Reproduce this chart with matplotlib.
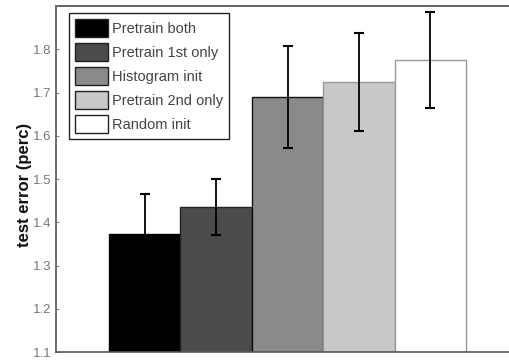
import matplotlib
matplotlib.use("Agg")
import matplotlib.pyplot as plt
import numpy as np

labels = ["Pretrain both", "Pretrain 1st only", "Histogram init", "Pretrain 2nd only", "Random init"]
values = [1.372, 1.435, 1.690, 1.725, 1.775]
errors = [0.093, 0.065, 0.118, 0.113, 0.110]
colors = ["#000000", "#4b4b4b", "#8a8a8a", "#c8c8c8", "#ffffff"]
edges = ["#000000", "#222222", "#111111", "#999999", "#999999"]
yticks = [1.1, 1.2, 1.3, 1.4, 1.5, 1.6, 1.7, 1.8]

plt.rcParams['font.family'] = ['Liberation Sans', 'DejaVu Sans']

W, H = 509, 360
fig = plt.figure(figsize=(W / 100, H / 100), dpi=100)
left, right, bottom, top = 56, 519, 352, 6
ax = fig.add_axes([left / W, 1 - bottom / H, (right - left) / W, (bottom - top) / H])

x = np.arange(len(values))
ax.bar(x, values, width=1.0, color=colors, edgecolor=edges, linewidth=1.0, zorder=2)
ax.errorbar(x, values, yerr=errors, fmt='none', ecolor='#000000', elinewidth=1.3,
            capsize=3.8, capthick=1.5, zorder=3)

ax.set_ylim(1.1, 1.90)
bw = (466 - 109) / 5.0
ax.set_xlim(-0.5 - (109 - left) / bw, 4.5 + (right - 466) / bw)
ax.set_xticks([])
ax.set_yticks(yticks)
ax.set_yticklabels([f"{t:.1f}" for t in yticks])
ax.tick_params(axis='y', direction='in', length=2, width=0.8, colors='#888888',
               labelcolor='#777777', labelsize=9.5, pad=3)

for s in ['left', 'bottom']:
    ax.spines[s].set_color('#555555')
    ax.spines[s].set_linewidth(1.2)
ax.spines['top'].set_color('#666666')
ax.spines['top'].set_linewidth(1.4)
ax.spines['right'].set_visible(False)

ax.set_ylabel("test error (perc)", fontsize=12, fontweight='bold', color='#111111')
ax.yaxis.set_label_coords(32 / W, 1 - 185 / H, transform=fig.transFigure)

handles = [plt.Rectangle((0, 0), 1, 1, facecolor=c, edgecolor='#222222', linewidth=1.0) for c in colors]
fs = 10.5
fpx = fs * 100 / 72
leg = ax.legend(handles, labels, loc='upper left',
                bbox_to_anchor=(69 / W, 1 - 13 / H), bbox_transform=fig.transFigure,
                borderaxespad=0, fontsize=fs, handlelength=33 / fpx, handleheight=1.52,
                labelspacing=0.42, handletextpad=4 / fpx, borderpad=0.4,
                fancybox=False, framealpha=1, edgecolor='#222222')
leg.get_frame().set_linewidth(1.0)
for t in leg.get_texts():
    t.set_color('#444444')

fig.savefig("out.png", dpi=100)
